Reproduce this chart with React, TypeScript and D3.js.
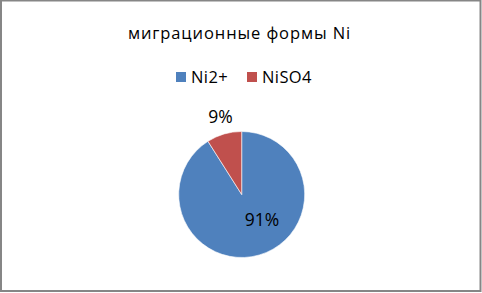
import React from "react";
import * as d3 from "d3";

const categories = ["Ni2+", "NiSO4"];
const values = [91, 9];
const labels = ["91%", "9%"];
const colors = ["#4F81BD", "#C0504D"];
const title = "миграционные формы Ni";

export default function App() {
  const W = 482, H = 293;
  const cx = 241.7, cy = 194.5, r = 63;
  const pie = d3.pie<number>().sort(null).value((d) => d)(values);
  const arc = d3.arc<d3.PieArcDatum<number>>().innerRadius(0).outerRadius(r);
  const font = "Open Sans, Liberation Sans, sans-serif";
  const labelPos = [
    { x: 262, y: 226 },
    { x: 220.5, y: 123 },
  ];
  const legendX = [176, 247];
  return (
    <svg width={W} height={H} style={{ position: "absolute", left: 0, top: 0 }}>
      <rect x={0} y={0} width={W} height={H} fill="#fff" />
      <rect x={1} y={0.5} width={479.5} height={290.5} fill="none" stroke="#868686" strokeWidth={2} />
      <text x={239.5} y={39} textAnchor="middle" fontFamily={font} fontSize={16.5} letterSpacing={0.9} fill="#000">
        {title}
      </text>
      {categories.map((c, i) => (
        <g key={c}>
          <rect x={legendX[i]} y={72} width={10} height={10} fill={colors[i]} />
          <text x={legendX[i] + 15} y={83} fontFamily={font} fontSize={16.5} letterSpacing={0.4} fill="#000">
            {c}
          </text>
        </g>
      ))}
      <g transform={`translate(${cx},${cy})`}>
        {pie.map((p, i) => (
          <path key={i} d={arc(p) || ""} fill={colors[i]} stroke="#fff" strokeWidth={0.6} />
        ))}
      </g>
      {pie.map((p, i) => (
        <text key={i} x={labelPos[i].x} y={labelPos[i].y} textAnchor="middle" fontFamily={font} fontSize={17.5} fill="#000">
          {labels[i]}
        </text>
      ))}
    </svg>
  );
}
